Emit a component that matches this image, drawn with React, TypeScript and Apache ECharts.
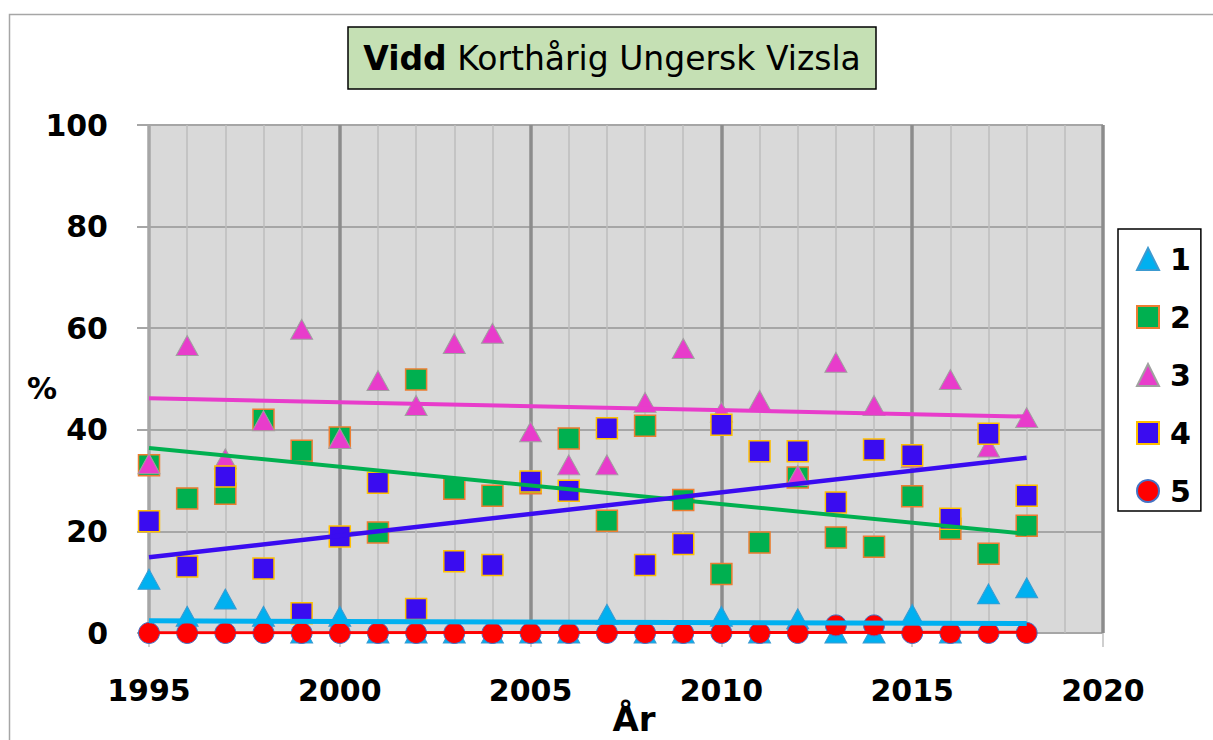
import React, { useEffect, useRef } from 'react';
import * as echarts from 'echarts';

const years = [1995, 1996, 1997, 1998, 1999, 2000, 2001, 2002, 2003, 2004, 2005, 2006, 2007, 2008, 2009, 2010, 2011, 2012, 2013, 2014, 2015, 2016, 2017, 2018];
const seriesNames = ['1', '2', '3', '4', '5'];
const vals1 = [10.6, 3.3, 6.7, 3.3, 0, 3.3, 0, 0, 0, 0, 0, 0, 3.7, 0, 0, 3.3, 0, 2.8, 0, 0, 3.7, 0, 7.7, 8.9];
const vals2 = [33, 26.5, 27.4, 42, 35.9, 38.5, 19.8, 49.9, 28.4, 27, 29.5, 38.3, 22.1, 40.8, 26.2, 11.6, 17.8, 30.6, 18.8, 17, 26.9, 20.5, 15.6, 21.1];
const vals3 = [33.3, 56.6, 34.3, 41.8, 59.8, 38.3, 49.7, 44.8, 57, 59, 39.6, 33.1, 33.1, 45.4, 56, 43.5, 45.8, 31, 53.3, 44.8, 34.5, 49.9, 36.6, 42.4];
const vals4 = [22, 13.1, 30.8, 12.7, 3.9, 19, 29.6, 4.7, 14.1, 13.4, 29.8, 28, 40.3, 13.4, 17.5, 41, 35.8, 35.8, 25.7, 36.1, 35, 22.5, 39.2, 27];
const vals5 = [0, 0, 0, 0, 0, 0, 0, 0, 0, 0, 0, 0, 0, 0, 0, 0, 0, 0, 1.5, 1.5, 0, 0, 0, 0];
const trendYears = [1995, 2018];
const trend1 = [2.4, 1.85];
const trend2 = [36.4, 19.5];
const trend3 = [46.2, 42.6];
const trend4 = [14.9, 34.5];
const trend5 = [0.05, 0.15];

const FONT = 'DejaVu Sans';

export default function App() {
  const ref = useRef<HTMLDivElement>(null);
  useEffect(() => {
    if (!ref.current) return;
    const chart = echarts.init(ref.current, null, { renderer: 'svg' });
    const pts = (v: number[]) => years.map((y, i) => [y, v[i]]);
    const tr = (v: number[]) => trendYears.map((y, i) => [y, v[i]]);
    const scatterDefs = [
      { vals: vals1, symbol: 'triangle', size: [22, 20], color: '#00B0F0', border: '#3C9AD0', bw: 1 },
      { vals: vals2, symbol: 'rect', size: [21, 21], color: '#00B050', border: '#ED7D31', bw: 1.5 },
      { vals: vals3, symbol: 'triangle', size: [22, 20], color: '#E83CCB', border: '#A0A0A0', bw: 1 },
      { vals: vals4, symbol: 'rect', size: [21, 21], color: '#3A0CF0', border: '#FFC000', bw: 1.5 },
      { vals: vals5, symbol: 'circle', size: 21, color: '#FF0000', border: '#4472C4', bw: 1 },
    ];
    const trendDefs = [
      { vals: trend1, color: '#00B0F0', w: 5 },
      { vals: trend2, color: '#00B050', w: 4 },
      { vals: trend3, color: '#E83CCB', w: 4 },
      { vals: trend4, color: '#3A0CF0', w: 4.5 },
      { vals: trend5, color: '#FF0000', w: 3 },
    ];
    const series: any[] = [];
    scatterDefs.forEach((d, i) => {
      series.push({
        name: seriesNames[i],
        type: 'scatter',
        data: pts(d.vals),
        symbol: d.symbol,
        symbolSize: d.size,
        z: 2,
        itemStyle: { color: d.color, borderColor: d.border, borderWidth: d.bw, opacity: 1 },
        emphasis: { disabled: true },
      });
    });
    trendDefs.forEach((d) => {
      series.push({
        type: 'line',
        data: tr(d.vals),
        symbol: 'none',
        z: 3,
        lineStyle: { color: d.color, width: d.w },
        emphasis: { disabled: true },
      });
    });
    chart.setOption({
      animation: false,
      grid: {
        left: 149, right: 110, top: 125, bottom: 107,
        show: true, backgroundColor: '#D9D9D9', borderWidth: 0,
      },
      xAxis: {
        type: 'value', min: 1995, max: 2020, interval: 5,
        axisLine: { show: false },
        axisTick: { show: true, length: 14, lineStyle: { color: '#BFBFBF', width: 1.5 } },
        axisLabel: { margin: 42, fontFamily: FONT, fontSize: 30, fontWeight: 'bold', color: '#000', formatter: (v: number) => String(v) },
        splitLine: { show: true, lineStyle: { color: ['#A6A6A6', '#8C8C8C', '#8C8C8C', '#8C8C8C', '#8C8C8C', '#8C8C8C'], width: 3.5 } },
        minorTick: { show: false, splitNumber: 5 },
        minorSplitLine: { show: true, lineStyle: { color: '#BDBDBD', width: 1.5 } },
      },
      yAxis: {
        type: 'value', min: 0, max: 100, interval: 20,
        axisLine: { show: true, lineStyle: { color: '#A6A6A6', width: 1.5 } },
        axisTick: { show: true, length: 12, lineStyle: { color: '#A6A6A6', width: 2 } },
        axisLabel: { margin: 41, fontFamily: FONT, fontSize: 30, fontWeight: 'bold', color: '#000' },
        splitLine: { show: true, lineStyle: { color: '#A6A6A6', width: 2 } },
      },
      legend: {
        orient: 'vertical', left: 1118, top: 229,
        itemWidth: 22, itemHeight: 22, itemGap: 22,
        padding: [12, 10, 2, 18],
        borderColor: '#000', borderWidth: 1.5, backgroundColor: '#fff',
        selectedMode: false,
        data: seriesNames,
        textStyle: { fontFamily: FONT, fontSize: 30, fontWeight: 'bold', color: '#000', lineHeight: 36, padding: [0, 0, 0, 6] },
      },
      graphic: [
        { type: 'rect', left: 7, top: 12, shape: { x: 0, y: 0, width: 1300, height: 800 }, style: { fill: 'none', stroke: '#A6A6A6', lineWidth: 1.5 }, silent: true, z: -10 },
        { type: 'rect', shape: { x: 348, y: 27, width: 528, height: 62 }, style: { fill: '#C5E0B4', stroke: '#000', lineWidth: 1.5 }, z: 10 },
        {
          type: 'text', x: 612, y: 58, z: 11,
          style: {
            text: '{b|Vidd} Korthårig Ungersk Vizsla',
            fontFamily: FONT, fontSize: 33, fill: '#000', align: 'center', verticalAlign: 'middle',
            rich: { b: { fontFamily: FONT, fontSize: 33, fontWeight: 'bold', fill: '#000' } },
          },
        },
        { type: 'text', x: 42, y: 388, z: 10, style: { text: '%', fontFamily: FONT, fontSize: 30, fontWeight: 'bold', fill: '#000', align: 'center', verticalAlign: 'middle' } },
        { type: 'text', x: 634, y: 719, z: 10, style: { text: 'År', fontFamily: FONT, fontSize: 34, fontWeight: 'bold', fill: '#000', align: 'center', verticalAlign: 'middle' } },
      ],
      series,
    });
    return () => chart.dispose();
  }, []);
  return <div ref={ref} style={{ position: 'fixed', left: 0, top: 0, width: 1213, height: 740, background: '#fff' }} />;
}
